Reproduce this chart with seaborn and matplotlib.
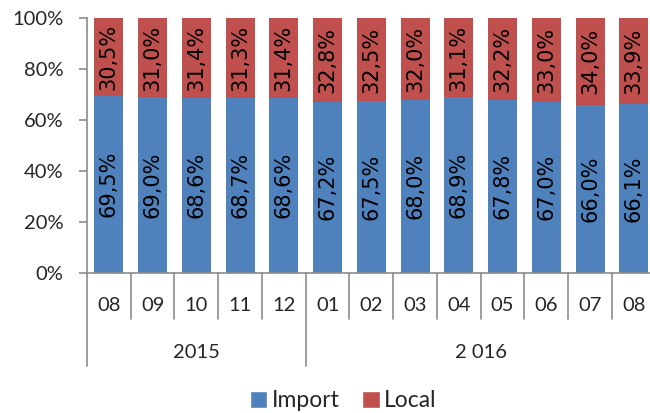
import numpy as np
import pandas as pd
import matplotlib
matplotlib.use("Agg")
import matplotlib.pyplot as plt
import matplotlib.transforms as mtransforms
from matplotlib.patches import Patch
import seaborn as sns

# chart data
months = ["08", "09", "10", "11", "12", "01", "02", "03", "04", "05", "06", "07", "08"]
years = ["2015"] * 5 + ["2 016"] * 8
import_share = [69.5, 69.0, 68.6, 68.7, 68.6, 67.2, 67.5, 68.0, 68.9, 67.8, 67.0, 66.0, 66.1]
local_share = [30.5, 31.0, 31.4, 31.3, 31.4, 32.8, 32.5, 32.0, 31.1, 32.2, 33.0, 34.0, 33.9]
year_groups = [("2015", 0, 4), ("2 016", 5, 12)]
y_ticks = [0, 20, 40, 60, 80, 100]

BLUE = "#4F81BD"
RED = "#C0504D"
GRAY = "#8C8C8C"

df = pd.DataFrame({
    "period": [f"{y}-{m}" for y, m in zip(years, months)],
    "Import": import_share,
    "Local": local_share,
})
df["Total"] = df["Import"] + df["Local"]

sns.set_theme(style="white")
plt.rcParams['font.family'] = ['Lato', 'DejaVu Sans']

fig = plt.figure(figsize=(6.5, 4.13), dpi=100)
ax = fig.add_axes([0.1338, 0.340, 0.875, 0.616])

# stacked bars: total in red, import drawn over it in blue
sns.barplot(data=df, x="period", y="Total", color=RED, saturation=1,
            width=0.66, linewidth=0, ax=ax)
sns.barplot(data=df, x="period", y="Import", color=BLUE, saturation=1,
            width=0.66, linewidth=0, ax=ax)

# value labels inside the bars
for i, (imp, loc) in enumerate(zip(df["Import"], df["Local"])):
    ax.text(i, imp / 2, f"{imp:.1f}%".replace(".", ","), rotation=90,
            ha="center", va="center", fontsize=15, family="DejaVu Sans", color="black")
    ax.text(i, imp + loc / 2, f"{loc:.1f}%".replace(".", ","), rotation=90,
            ha="center", va="center", fontsize=15, family="DejaVu Sans", color="black")

ax.set_xlim(-0.5, len(months) - 0.5)
ax.set_ylim(0, 100)
ax.set_yticks(y_ticks)
ax.set_yticklabels([f"{v}%" for v in y_ticks])
ax.set_xticks([])
ax.set_xlabel("")
ax.set_ylabel("")

for side in ["top", "right"]:
    ax.spines[side].set_visible(False)
for side in ["left", "bottom"]:
    ax.spines[side].set_color(GRAY)
    ax.spines[side].set_linewidth(1.2)

ax.tick_params(axis="y", direction="out", length=6, width=1.2, color=GRAY,
               labelsize=14.5, pad=11, left=True)

# two-level category axis drawn by hand
trans = mtransforms.blended_transform_factory(ax.transData, ax.transAxes)
for i, m in enumerate(months):
    ax.text(i, -0.128, m, transform=trans, ha="center", va="center", fontsize=14.5)
for name, start, end in year_groups:
    ax.text((start + end) / 2, -0.313, name, transform=trans, ha="center", va="center", fontsize=14.5)

year_edges = {-0.5} | {end + 0.5 for _, _, end in year_groups}
for k in range(len(months) + 1):
    x = k - 0.5
    y_end = -0.366 if x in year_edges else -0.181
    ax.plot([x, x], [0, y_end], transform=trans, color=GRAY, lw=1.2, clip_on=False)

handles = [Patch(facecolor=BLUE), Patch(facecolor=RED)]
fig.legend(handles, ["Import", "Local"], loc="center", bbox_to_anchor=(0.528, 0.03),
           ncol=2, frameon=False, fontsize=16.5, handlelength=0.75, handleheight=0.75,
           handletextpad=0.2, columnspacing=1.0)

fig.savefig("out.png", dpi=100)
plt.close()
